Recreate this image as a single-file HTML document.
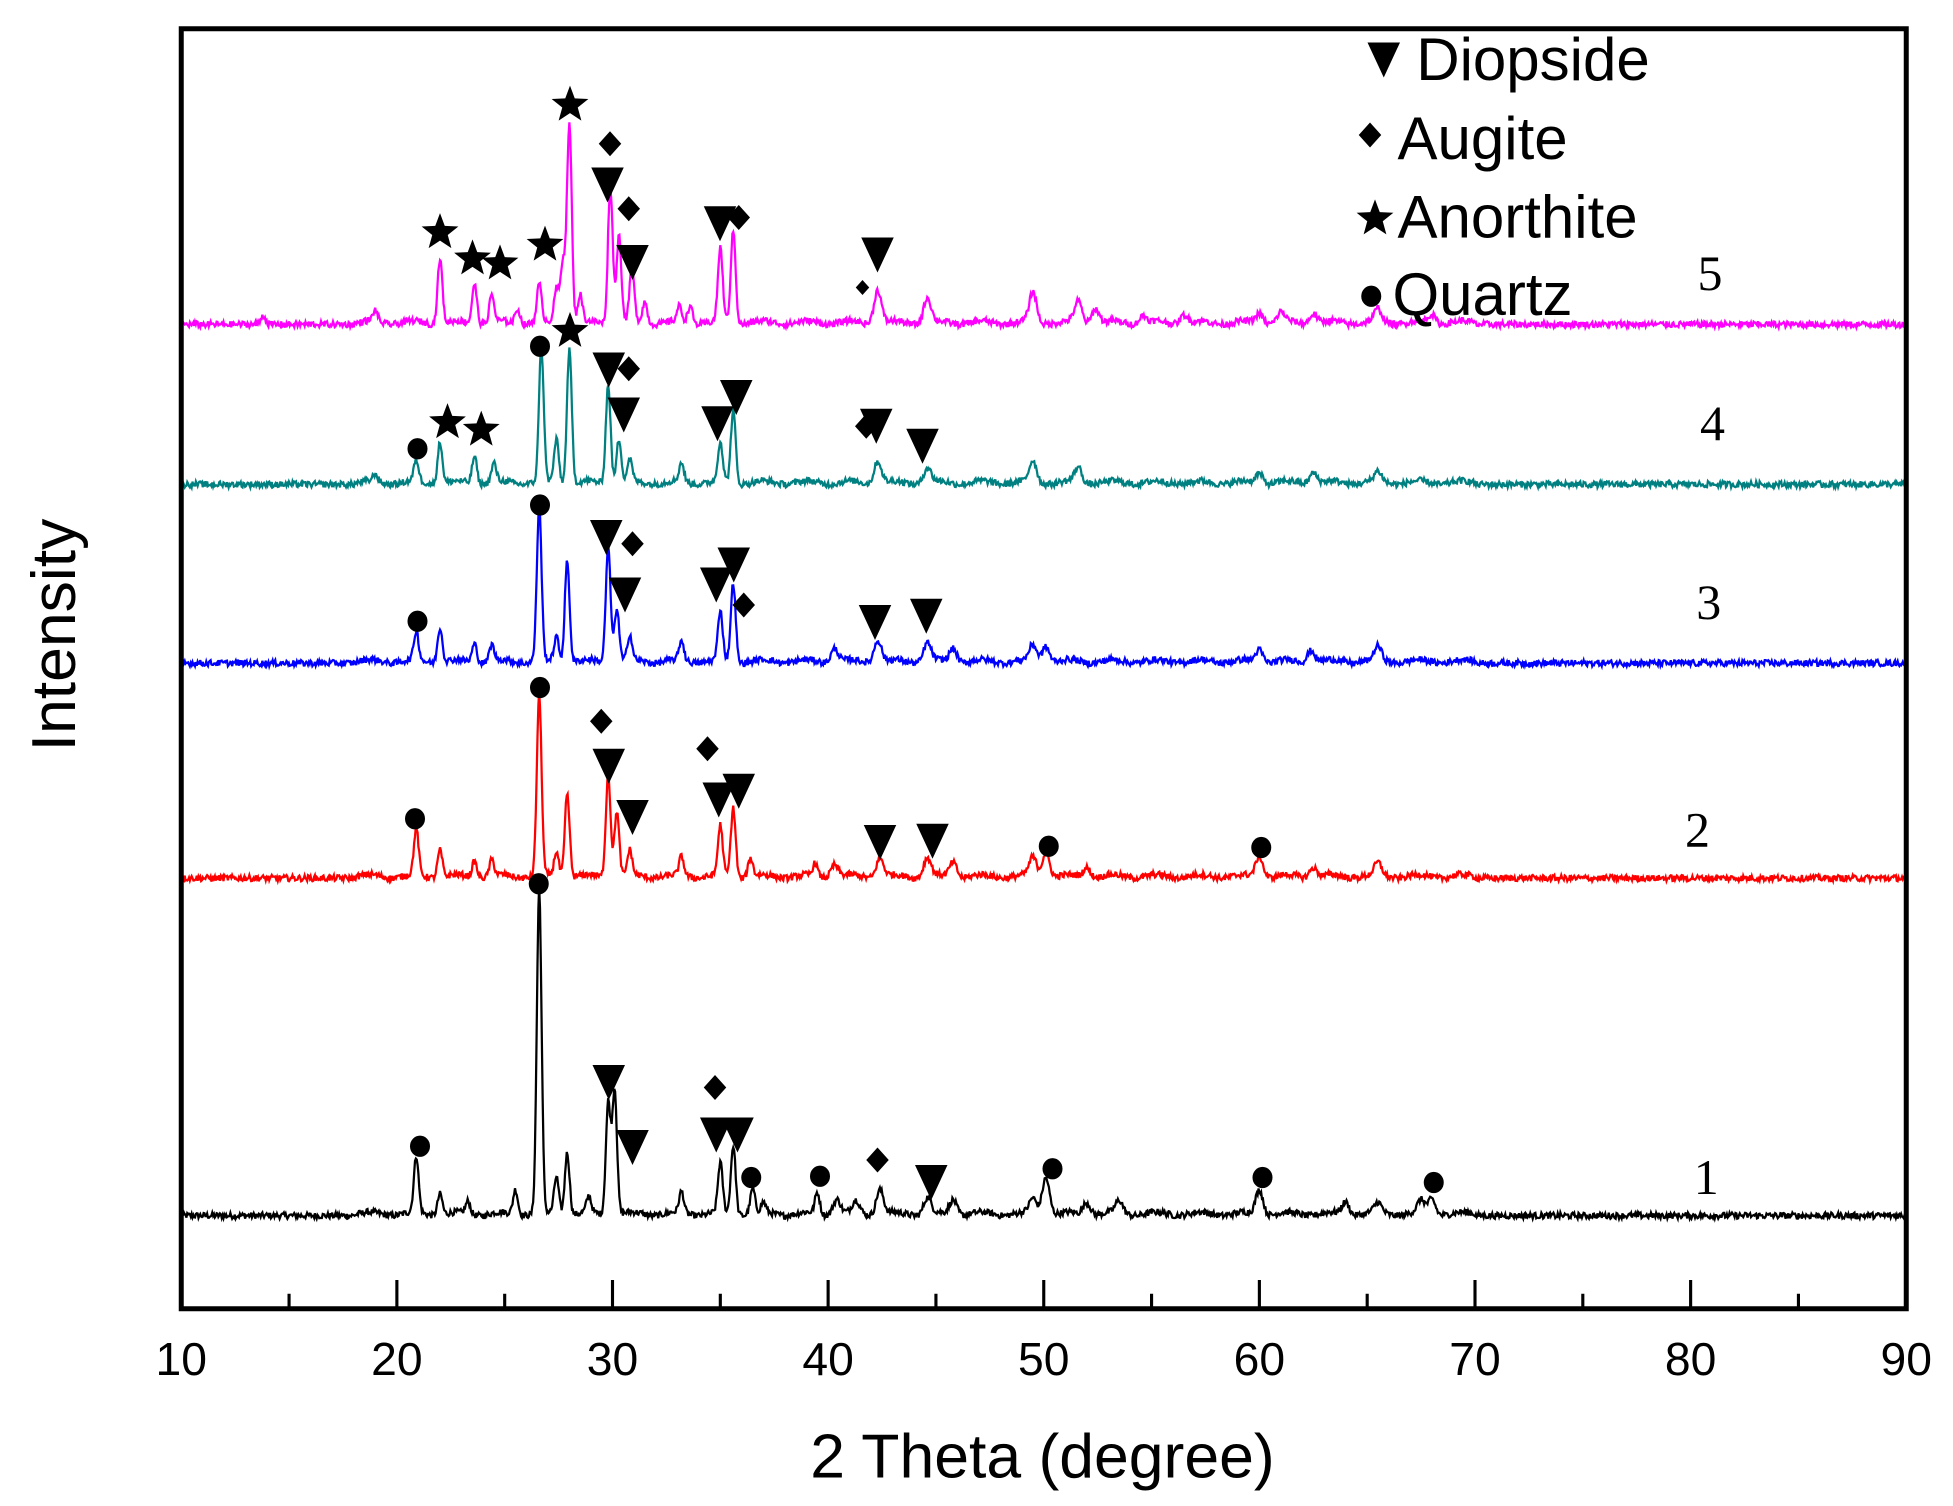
<!DOCTYPE html>
<html><head><meta charset="utf-8"><style>html,body{margin:0;padding:0;background:#fff}svg{display:block}</style></head>
<body>
<svg id="s" xmlns="http://www.w3.org/2000/svg" width="1953" height="1506" viewBox="0 0 1562.4 1204.8" font-family="'Liberation Sans',sans-serif">
<rect width="1562.4" height="1204.8" fill="#fff"/>
<g id="traces"></g>
<rect x="145" y="23" width="1380" height="1024" fill="none" stroke="#000" stroke-width="4"/>
<g id="ticks" stroke="#000" stroke-width="2.5"></g>
<g font-size="37" text-anchor="middle">
<text x="145" y="1100">10</text><text x="317.5" y="1100">20</text><text x="490" y="1100">30</text><text x="662.5" y="1100">40</text><text x="835" y="1100">50</text><text x="1007.5" y="1100">60</text><text x="1180" y="1100">70</text><text x="1352.5" y="1100">80</text><text x="1525" y="1100">90</text>
</g>
<text x="834" y="1182" font-size="50" text-anchor="middle">2 Theta (degree)</text>
<text transform="translate(60,508) rotate(-90)" font-size="50" text-anchor="middle">Intensity</text>
<g font-family="'Liberation Serif',serif" font-size="40" text-anchor="middle">
<text x="1368" y="232">5</text><text x="1370" y="352">4</text><text x="1367" y="495">3</text><text x="1358" y="677">2</text><text x="1365" y="955">1</text>
</g>
<g font-size="48">
<text x="1133" y="64">Diopside</text><text x="1118" y="127">Augite</text><text x="1118" y="190">Anorthite</text><text x="1114" y="252">Quartz</text>
</g>
<g id="marks" fill="#000"></g>
</svg>
<script>
var NS="http://www.w3.org/2000/svg";
function X(t){return 145+(t-10)*17.25;}
var seed=12345;function rnd(){seed=(seed*1103515245+12345)%2147483648;return seed/2147483648;}
var series=[
["#000",975,[[26.6,260],[20.9,45],[29.8,90],[30.1,100],[27.9,50],[35,40],[35.6,55],[36.5,20],[50.1,30],[60,20],[68,12],[22,17],[25.5,20],[33.2,17],[39.5,17],[42.4,20],[44.6,13],[45.8,12],[49.5,12],[27.4,30],[28.9,13],[52,10],[53.5,10],[64,10],[65.5,8],[67.5,10],[23.3,10],[37,8],[40.4,12],[41.3,10]]],
["#ff0000",705,[[26.6,145],[20.9,37],[22,22],[27.9,67],[29.8,83],[30.2,53],[30.8,20],[33.2,15],[35,40],[35.6,55],[36.4,15],[42.4,15],[44.6,15],[45.8,12],[49.5,15],[50.1,20],[60,17],[23.6,13],[24.4,13],[39.4,10],[40.3,10],[52,8],[62.5,8],[65.5,10],[27.4,20]]],
["#0000ff",533,[[26.6,123],[20.9,23],[22,28],[27.9,81],[29.8,93],[30.2,43],[30.8,20],[33.2,16],[35,40],[35.6,63],[42.3,18],[44.6,15],[45.8,11],[49.5,13],[50.1,13],[23.6,15],[24.4,13],[60,10],[62.4,10],[65.5,11],[40.3,11],[27.4,20]]],
["#008080",390,[[26.7,107],[28,107],[20.9,17],[22,33],[23.6,22],[24.5,15],[29.8,80],[30.3,35],[30.8,18],[33.2,15],[35,32],[35.6,58],[42.3,18],[44.6,12],[49.5,17],[51.6,12],[60,8],[62.5,9],[65.5,8],[27.4,35],[19,6]]],
["#ff00ff",262,[[28,159],[22,52],[23.6,32],[24.4,22],[25.6,12],[26.6,30],[27.4,27],[27.7,50],[28.5,22],[29.9,110],[30.3,70],[30.9,42],[31.5,17],[33.1,12],[33.6,14],[35,59],[35.6,74],[42.3,27],[44.6,20],[49.5,24],[51.6,17],[52.4,12],[19,9],[13.8,7],[60,8],[61,8],[62.5,8],[65.5,10],[68,7],[56.5,7],[54.6,6]]]
];
var tg=document.getElementById("traces");
series.forEach(function(s){
 var d="";for(var t=10;t<=90;t+=0.04){var y=s[1];s[2].forEach(function(p){var w=p[0]>40?0.17:0.11;var z=(t-p[0])/w;y-=p[1]*Math.exp(-z*z/2);});
 y-=rnd()*5+(t>18&&t<70?1.5*Math.sin(t*3.1)+1.5:0);d+=(d?"L":"M")+X(t).toFixed(1)+" "+y.toFixed(1);}
 var p=document.createElementNS(NS,"path");p.setAttribute("d",d);p.setAttribute("fill","none");p.setAttribute("stroke",s[0]);p.setAttribute("stroke-width","1.8");tg.appendChild(p);});
var kg=document.getElementById("ticks");
for(var t=15;t<90;t+=5){var l=document.createElementNS(NS,"line");var x=X(t);l.setAttribute("x1",x);l.setAttribute("x2",x);l.setAttribute("y1",1047);l.setAttribute("y2",t%10==0?1024:1035);kg.appendChild(l);}
var mg=document.getElementById("marks");
function add(tag,attrs){var e=document.createElementNS(NS,tag);for(var k in attrs)e.setAttribute(k,attrs[k]);mg.appendChild(e);}
function tri(x,y,s){s=s||1;add("polygon",{points:(x-13*s)+","+(y-13*s)+" "+(x+13*s)+","+(y-13*s)+" "+x+","+(y+15*s)});}
function dia(x,y,s){s=s||1;add("polygon",{points:x+","+(y-10*s)+" "+(x+9*s)+","+y+" "+x+","+(y+10*s)+" "+(x-9*s)+","+y});}
function circ(x,y){add("ellipse",{cx:x,cy:y,rx:8,ry:8.5});}
function star(x,y){var p=[];for(var i=0;i<10;i++){var r=i%2?6.5:15.5;var a=-Math.PI/2+i*Math.PI/5;p.push((x+r*Math.cos(a)).toFixed(1)+","+(y+r*Math.sin(a)).toFixed(1));}add("polygon",{points:p.join(" ")});}
[[456,84],[352,186],[378,207],[400,211],[436,196],[456,265],[358,338],[385,344],[1100,175]].forEach(function(a){star(a[0],a[1]);});
[[488,115],[503,167],[591,174],[503,295],[693,341],[506,435],[595,484],[481,577],[566,599],[572,870],[702,928]].forEach(function(a){dia(a[0],a[1]);});
dia(690,230,0.6);dia(1096,108);
[[486,147],[506,209],[576,178],[702,203],[487,295],[499,331],[574,338],[589,317],[701,340],[738,356],[485,429],[500,475],[573,467],[587,451],[700,497],[741,492],[487,612],[506,653],[575,639],[591,632],[704,673],[746,672],[487,865],[506,917],[573,907],[590,907],[745,945],[1107,47]].forEach(function(a){tri(a[0],a[1]);});
[[432,277],[334,359],[432,404],[334,497],[432,550],[839,677],[1009,678],[332,655],[431,707],[336,917],[601,942],[656,941],[842,935],[1010,942],[1147,946],[1097,237]].forEach(function(a){circ(a[0],a[1]);});
</script>
</body></html>
